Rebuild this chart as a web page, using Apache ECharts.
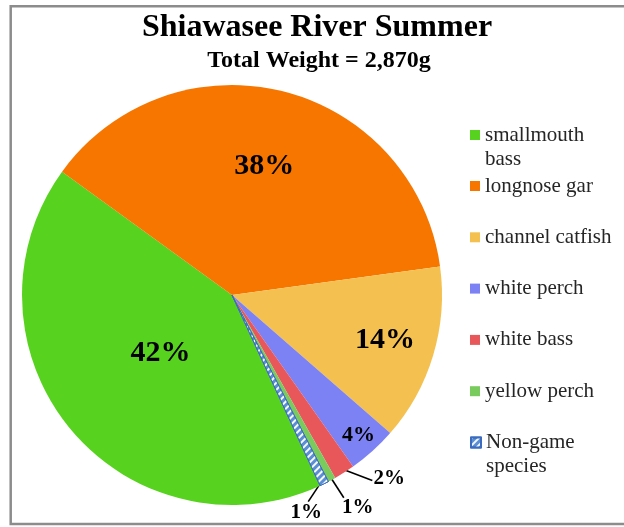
<!DOCTYPE html>
<html><head><meta charset="utf-8">
<script src="https://cdn.jsdelivr.net/npm/echarts@6/dist/echarts.min.js"></script>
<style>html,body{margin:0;padding:0;background:#fff}#c{width:624px;height:527px}</style>
</head><body><div id="c"></div>
<script>
// ---- data ----
const categories = ['smallmouth bass', 'longnose gar', 'channel catfish', 'white perch', 'white bass', 'yellow perch', 'Non-game species'];
const weights = [1202, 1086, 390, 109, 46, 17, 20];
const legendLabels = ['\nsmallmouth\nbass', 'longnose gar', 'channel catfish', 'white perch', 'white bass', 'yellow perch', '\nNon-game\nspecies'];
const titleText = 'Shiawasee River Summer';

// ---- styles ----
const colors = ['#57D21F', '#F67600', '#F4C150', '#7C82F4', '#E8585B', '#7ACB5E', '#5B8FD4'];
const labelInside = [true, true, true, true, false, false, false];
const labelSize = [30, 30, 30, 22, 21, 21, 21];
const insideRadial = [0.44, 0.63, 0.76, 0.90, 0, 0, 0];
const outsideOffset = [null, null, null, null, [45, 6], [26, 28], [-18, 29]];
const lineEndOffset = [null, null, null, null, [-17, 2], [-14, -10], [2, -11]];
const CX = 232, CY = 295, R = 210;
const SERIF = '"Liberation Serif", "Times New Roman", serif';

const total = weights.reduce((a, b) => a + b, 0);

const data = categories.map((name, i) => {
  const item = {
    name: name,
    value: weights[i],
    itemStyle: { color: colors[i] },
    label: {
      position: labelInside[i] ? 'inside' : 'outside',
      fontSize: labelSize[i]
    },
    labelLine: { show: !labelInside[i] }
  };
  if (i === 6) {
    item.itemStyle.borderColor = '#3B6CC0';
    item.itemStyle.borderWidth = 1;
    item.itemStyle.decal = {
      symbol: 'rect', symbolSize: 1,
      dashArrayX: [1, 0], dashArrayY: [1.5, 2.5],
      rotation: -Math.PI / 4, color: 'rgba(255,255,255,0.95)'
    };
  }
  return item;
});

const legendBase = {
  orient: 'vertical',
  left: 470,
  padding: 0,
  icon: 'rect',
  itemWidth: 10,
  itemHeight: 10,
  selectedMode: false,
  formatter: name => legendLabels[categories.indexOf(name)],
  textStyle: { fontFamily: SERIF, fontSize: 21, color: '#262626', lineHeight: 23 }
};

const chart = echarts.init(document.getElementById('c'), null, { renderer: 'canvas' });
chart.setOption({
  backgroundColor: '#fff',
  animation: false,
  aria: { enabled: false, decal: { show: false } },
  graphic: [{
    type: 'rect', silent: true,
    shape: { x: 10.7, y: 6.2, width: 700, height: 517.8 },
    style: { fill: 'none', stroke: '#8c8c8c', lineWidth: 2.5 }
  }],
  title: [
    { text: titleText, left: 317, top: 12, textAlign: 'center', padding: 0,
      textStyle: { fontFamily: SERIF, fontWeight: 'bold', fontSize: 32, color: '#000' } },
    { text: 'Total Weight = ' + total.toLocaleString('en-US') + 'g', left: 319, top: 49, textAlign: 'center', padding: 0,
      textStyle: { fontFamily: SERIF, fontWeight: 'bold', fontSize: 24, color: '#000' } }
  ],
  legend: [
    Object.assign({}, legendBase, { top: 99, data: [categories[0]],
      textStyle: Object.assign({}, legendBase.textStyle, { lineHeight: 24 }) }),
    Object.assign({}, legendBase, { top: 174.5, itemGap: 28.3, data: categories.slice(1, 6) }),
    Object.assign({}, legendBase, { top: 406.5, data: [categories[6]],
      textStyle: Object.assign({}, legendBase.textStyle, { lineHeight: 24 }) })
  ],
  series: [{
    type: 'pie',
    center: [CX, CY],
    radius: R,
    startAngle: -65.2,
    clockwise: true,
    avoidLabelOverlap: false,
    itemStyle: { borderWidth: 0 },
    emphasis: { disabled: true },
    label: {
      fontFamily: SERIF, fontWeight: 'bold', color: '#000',
      formatter: p => Math.round(p.value / total * 100) + '%'
    },
    labelLine: { length: 10, length2: 10, lineStyle: { color: '#000', width: 1.6 } },
    labelLayout: function (params) {
      const i = params.dataIndex;
      const rect = params.labelRect;
      if (labelInside[i]) {
        const lx = rect.x + rect.width / 2, ly = rect.y + rect.height / 2;
        const vx = lx - CX, vy = ly - CY, d = Math.hypot(vx, vy) || 1;
        const s = insideRadial[i] * R / d;
        return { x: CX + vx * s, y: CY + vy * s, align: 'center', verticalAlign: 'middle' };
      }
      const a = params.labelLinePoints[0];
      const ax = a[0] - CX, ay = a[1] - CY, ad = Math.hypot(ax, ay) || 1;
      const start = [a[0] - ax / ad * 4, a[1] - ay / ad * 4];
      const lx = a[0] + outsideOffset[i][0], ly = a[1] + outsideOffset[i][1];
      const end = [lx + lineEndOffset[i][0], ly + lineEndOffset[i][1]];
      return { x: lx, y: ly, align: 'center', verticalAlign: 'middle', labelLinePoints: [start, end] };
    },
    data: data
  }]
});
</script>
</body></html>
